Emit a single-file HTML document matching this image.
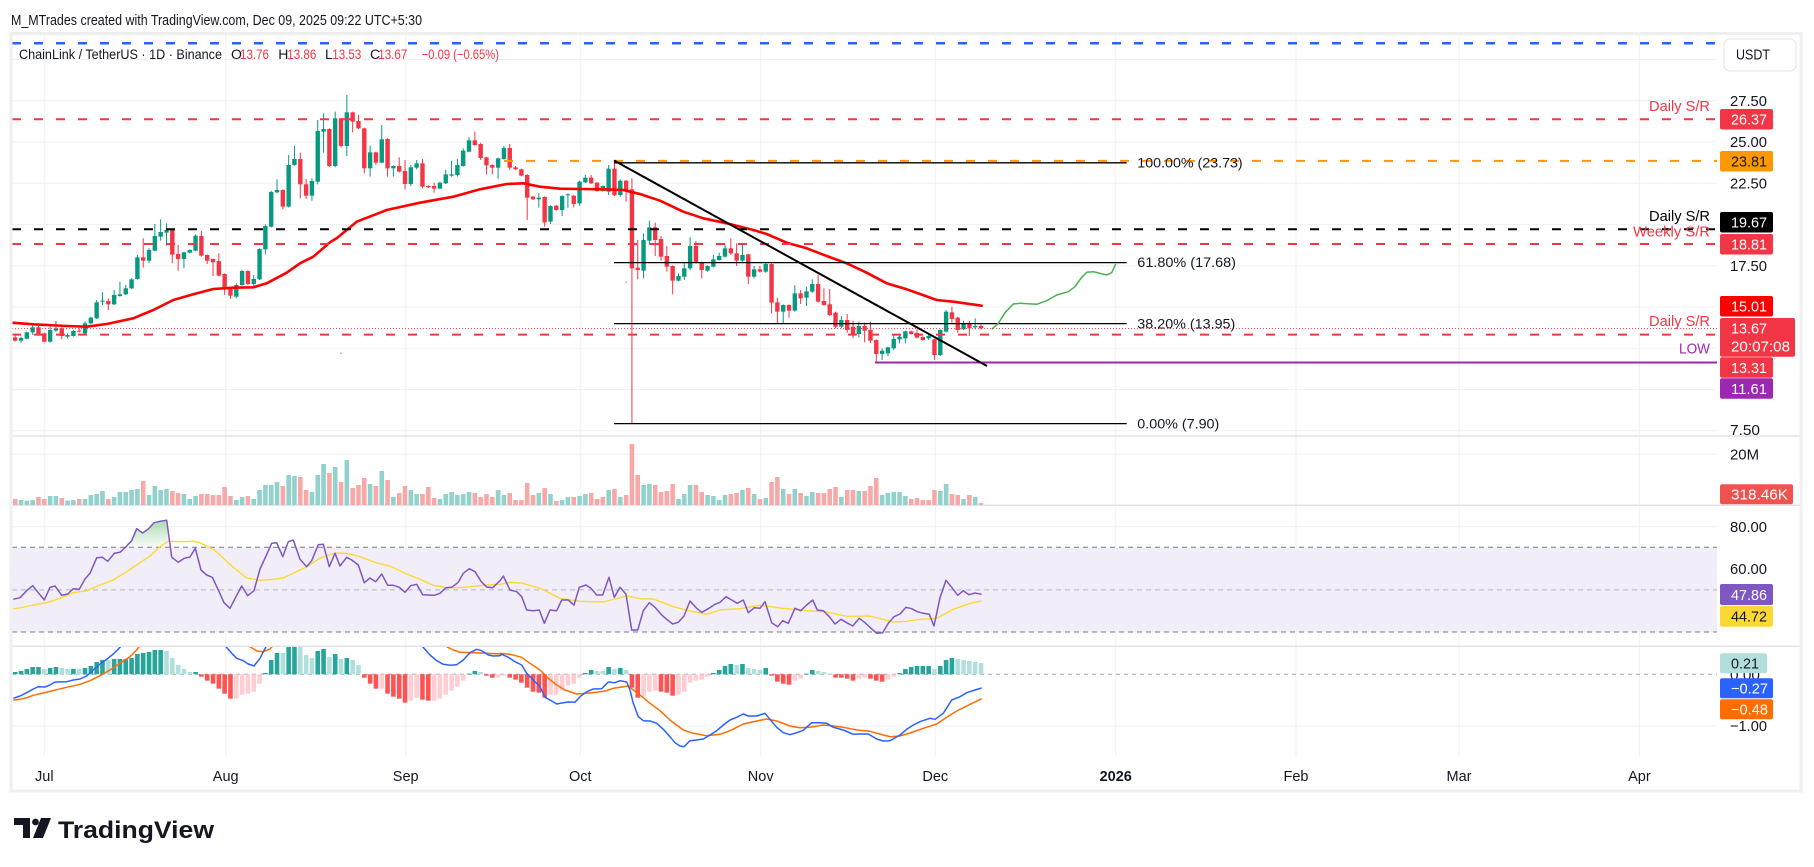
<!DOCTYPE html>
<html><head><meta charset="utf-8">
<style>
html,body{margin:0;padding:0;background:#fff;}
svg{display:block;}
text{font-family:"Liberation Sans",sans-serif;}
</style></head><body>
<svg id="c" width="1814" height="867" viewBox="0 0 1814 867" xmlns="http://www.w3.org/2000/svg">
<defs>
 <clipPath id="cpMain"><rect x="12" y="35" width="1705" height="401"/></clipPath>
 <clipPath id="cpRsi"><rect x="12" y="506" width="1705" height="140"/></clipPath>
 <clipPath id="cpMacd"><rect x="12" y="647" width="1705" height="109"/></clipPath>
 <linearGradient id="obg" x1="0" y1="0" x2="0" y2="1">
  <stop offset="0" stop-color="#4caf50" stop-opacity="0.45"/>
  <stop offset="1" stop-color="#4caf50" stop-opacity="0.03"/>
 </linearGradient>
</defs>
<rect width="1814" height="867" fill="#fff"/>
<!-- RSI band -->
<rect x="12" y="547.3" width="1705" height="84.7" fill="#f2eef9"/>
<!-- grid -->
<g stroke="#eff1f4" stroke-width="1">
 <line x1="12" x2="1717" y1="59.5" y2="59.5"/>
 <line x1="12" x2="1717" y1="100.7" y2="100.7"/>
 <line x1="12" x2="1717" y1="142" y2="142"/>
 <line x1="12" x2="1717" y1="183.2" y2="183.2"/>
 <line x1="12" x2="1717" y1="224.5" y2="224.5"/>
 <line x1="12" x2="1717" y1="265.7" y2="265.7"/>
 <line x1="12" x2="1717" y1="307" y2="307"/>
 <line x1="12" x2="1717" y1="348.2" y2="348.2"/>
 <line x1="12" x2="1717" y1="389.5" y2="389.5"/>
 <line x1="12" x2="1717" y1="430.7" y2="430.7"/>
 <line x1="12" x2="1717" y1="454.3" y2="454.3"/>
 <line x1="12" x2="1717" y1="526.7" y2="526.7"/>
 <line x1="12" x2="1717" y1="568.8" y2="568.8"/>
 <line x1="12" x2="1717" y1="610.9" y2="610.9"/>
 <line x1="12" x2="1717" y1="726" y2="726"/>
 <line x1="44.3" x2="44.3" y1="35" y2="756"/>
 <line x1="225.7" x2="225.7" y1="35" y2="756"/>
 <line x1="405.7" x2="405.7" y1="35" y2="756"/>
 <line x1="580.3" x2="580.3" y1="35" y2="756"/>
 <line x1="760.7" x2="760.7" y1="35" y2="756"/>
 <line x1="935.3" x2="935.3" y1="35" y2="756"/>
 <line x1="1115.7" x2="1115.7" y1="35" y2="756"/>
 <line x1="1296" x2="1296" y1="35" y2="756"/>
 <line x1="1459" x2="1459" y1="35" y2="756"/>
 <line x1="1639.4" x2="1639.4" y1="35" y2="756"/>
</g>
<!-- pane separators -->
<g stroke="#e0e3eb" stroke-width="1.5">
 <line x1="12" x2="1801" y1="436" y2="436"/>
 <line x1="12" x2="1801" y1="505.3" y2="505.3"/>
 <line x1="12" x2="1801" y1="646.3" y2="646.3"/>
</g>
<!-- RSI levels -->
<line x1="12" x2="1717" y1="547.3" y2="547.3" stroke="#787b86" stroke-width="1" stroke-dasharray="5 4"/>
<line x1="12" x2="1717" y1="589.9" y2="589.9" stroke="#b2b5be" stroke-width="1" stroke-dasharray="5 4"/>
<line x1="12" x2="1717" y1="632" y2="632" stroke="#787b86" stroke-width="1" stroke-dasharray="5 4"/>
<!-- MACD zero -->
<line x1="12" x2="1717" y1="674.3" y2="674.3" stroke="#a3a6af" stroke-width="1" stroke-dasharray="4 4"/>

<g id="vol"></g>
<g clip-path="url(#cpRsi)"><g id="rsi"></g></g>
<g clip-path="url(#cpMacd)"><g id="macd"></g></g>
<g clip-path="url(#cpMain)"><g id="candles"></g><g id="ind"></g></g>

<!-- drawings -->
<g id="draw">
 <line x1="12" x2="1717" y1="43.3" y2="43.3" stroke="#2962ff" stroke-width="2.5" stroke-dasharray="9 13"/>
 <line x1="12" x2="1717" y1="119.3" y2="119.3" stroke="#f23645" stroke-width="2" stroke-dasharray="9 13"/>
 <line x1="504" x2="1717" y1="160.9" y2="160.9" stroke="#ff9800" stroke-width="2" stroke-dasharray="9 13"/>
 <line x1="12" x2="1717" y1="229.2" y2="229.2" stroke="#000" stroke-width="2" stroke-dasharray="9 13"/>
 <line x1="12" x2="1717" y1="244" y2="244" stroke="#f23645" stroke-width="2" stroke-dasharray="9 13"/>
 <line x1="12" x2="1717" y1="334.6" y2="334.6" stroke="#f23645" stroke-width="2" stroke-dasharray="9 13"/>
 <line x1="12" x2="1717" y1="328.6" y2="328.6" stroke="#f23645" stroke-width="1" stroke-dasharray="1 2"/>
 <line x1="875" x2="1717" y1="362.5" y2="362.5" stroke="#9c27b0" stroke-width="2"/>
 <g stroke="#000" stroke-width="1.3">
  <line x1="614" x2="1126.7" y1="162.8" y2="162.8"/>
  <line x1="614" x2="1126.7" y1="262.6" y2="262.6"/>
  <line x1="614" x2="1126.7" y1="323.6" y2="323.6"/>
  <line x1="614" x2="1126.7" y1="423.6" y2="423.6"/>
 </g>
 <line x1="614" y1="160.5" x2="987" y2="366" stroke="#000" stroke-width="2"/>
</g>
<g id="proj"></g>

<!-- fib labels -->
<g font-size="14" fill="#131722">
 <text x="1137.3" y="167.7" textLength="105.4" lengthAdjust="spacingAndGlyphs">100.00% (23.73)</text>
 <text x="1137.3" y="267.2" textLength="98.7" lengthAdjust="spacingAndGlyphs">61.80% (17.68)</text>
 <text x="1137.3" y="328.4" textLength="98" lengthAdjust="spacingAndGlyphs">38.20% (13.95)</text>
 <text x="1137.3" y="428.4" textLength="82" lengthAdjust="spacingAndGlyphs">0.00% (7.90)</text>
</g>
<!-- on-chart labels -->
<g font-size="15" text-anchor="end">
 <text x="1710" y="111" fill="#f23645" textLength="61" lengthAdjust="spacingAndGlyphs">Daily S/R</text>
 <text x="1710" y="221" fill="#000" textLength="61" lengthAdjust="spacingAndGlyphs">Daily S/R</text>
 <text x="1710" y="236.5" fill="#f23645" textLength="77" lengthAdjust="spacingAndGlyphs">Weekly S/R</text>
 <text x="1710" y="326" fill="#f23645" textLength="61" lengthAdjust="spacingAndGlyphs">Daily S/R</text>
 <text x="1710" y="353.5" fill="#9c27b0" textLength="31" lengthAdjust="spacingAndGlyphs">LOW</text>
</g>

<!-- title + legend -->
<text x="11" y="25" font-size="15" fill="#131722" textLength="411" lengthAdjust="spacingAndGlyphs">M_MTrades created with TradingView.com, Dec 09, 2025 09:22 UTC+5:30</text>
<g font-size="14" fill="#131722">
 <text x="19" y="59" textLength="203" lengthAdjust="spacingAndGlyphs">ChainLink / TetherUS · 1D · Binance</text>
 <text x="231" y="59">O</text><text x="240" y="59" fill="#f23645" textLength="29" lengthAdjust="spacingAndGlyphs">13.76</text>
 <text x="278.3" y="59">H</text><text x="287.3" y="59" fill="#f23645" textLength="29" lengthAdjust="spacingAndGlyphs">13.86</text>
 <text x="325" y="59">L</text><text x="332.3" y="59" fill="#f23645" textLength="29" lengthAdjust="spacingAndGlyphs">13.53</text>
 <text x="370" y="59">C</text><text x="378.3" y="59" fill="#f23645" textLength="29" lengthAdjust="spacingAndGlyphs">13.67</text>
 <text x="421.7" y="59" fill="#f23645" textLength="77.3" lengthAdjust="spacingAndGlyphs">−0.09 (−0.65%)</text>
</g>

<!-- price scale -->
<rect x="1724" y="39" width="72" height="32" rx="6" fill="#fff" stroke="#e0e3eb" stroke-width="1"/>
<text x="1753" y="59.5" font-size="15" fill="#131722" text-anchor="middle" textLength="34" lengthAdjust="spacingAndGlyphs">USDT</text>
<g font-size="15" fill="#131722">
 <text x="1730" y="106" textLength="37" lengthAdjust="spacingAndGlyphs">27.50</text>
 <text x="1730" y="147" textLength="37" lengthAdjust="spacingAndGlyphs">25.00</text>
 <text x="1730" y="188.5" textLength="37" lengthAdjust="spacingAndGlyphs">22.50</text>
 <text x="1730" y="271" textLength="37" lengthAdjust="spacingAndGlyphs">17.50</text>
 <text x="1730" y="435" textLength="30" lengthAdjust="spacingAndGlyphs">7.50</text>
 <text x="1730" y="459.5" textLength="29" lengthAdjust="spacingAndGlyphs">20M</text>
 <text x="1730" y="532" textLength="37" lengthAdjust="spacingAndGlyphs">80.00</text>
 <text x="1730" y="574" textLength="37" lengthAdjust="spacingAndGlyphs">60.00</text>
 <text x="1730" y="680" textLength="30" lengthAdjust="spacingAndGlyphs">0.00</text>
 <text x="1730" y="731" textLength="37" lengthAdjust="spacingAndGlyphs">−1.00</text>
</g>
<g font-size="15">
 <rect x="1720" y="109" width="53" height="20.5" rx="2" fill="#f23645"/>
 <text x="1731" y="124.5" fill="#fff" textLength="36" lengthAdjust="spacingAndGlyphs">26.37</text>
 <rect x="1720" y="151" width="53" height="20.5" rx="2" fill="#ff9800"/>
 <text x="1731" y="166.5" fill="#131722" textLength="36" lengthAdjust="spacingAndGlyphs">23.81</text>
 <rect x="1720" y="212" width="53" height="20.5" rx="2" fill="#000"/>
 <text x="1731" y="227.5" fill="#fff" textLength="36" lengthAdjust="spacingAndGlyphs">19.67</text>
 <rect x="1720" y="234" width="53" height="20.5" rx="2" fill="#f23645"/>
 <text x="1731" y="249.5" fill="#fff" textLength="36" lengthAdjust="spacingAndGlyphs">18.81</text>
 <rect x="1720" y="296" width="53" height="20.5" rx="2" fill="#ff0000"/>
 <text x="1731" y="311.5" fill="#fff" textLength="36" lengthAdjust="spacingAndGlyphs">15.01</text>
 <rect x="1720" y="318" width="75" height="38.7" rx="2" fill="#f23645"/>
 <text x="1731" y="333.5" fill="#fff" textLength="36" lengthAdjust="spacingAndGlyphs">13.67</text>
 <text x="1731" y="351.3" fill="#fff" textLength="59" lengthAdjust="spacingAndGlyphs">20:07:08</text>
 <rect x="1720" y="357.3" width="53" height="20.5" rx="2" fill="#f23645"/>
 <text x="1731" y="372.8" fill="#fff" textLength="36" lengthAdjust="spacingAndGlyphs">13.31</text>
 <rect x="1720" y="378.3" width="53" height="20.5" rx="2" fill="#9c27b0"/>
 <text x="1731" y="393.8" fill="#fff" textLength="36" lengthAdjust="spacingAndGlyphs">11.61</text>
 <rect x="1720" y="484.3" width="73" height="20" rx="2" fill="#ef5350"/>
 <text x="1731" y="499.5" fill="#fff" textLength="57" lengthAdjust="spacingAndGlyphs">318.46K</text>
 <rect x="1720" y="584" width="53" height="21" rx="2" fill="#7e57c2"/>
 <text x="1731" y="599.8" fill="#fff" textLength="36" lengthAdjust="spacingAndGlyphs">47.86</text>
 <rect x="1720" y="606" width="53" height="20.7" rx="2" fill="#fdd835"/>
 <text x="1731" y="621.6" fill="#131722" textLength="36" lengthAdjust="spacingAndGlyphs">44.72</text>
 <rect x="1720" y="653.3" width="47" height="20" rx="2" fill="#b2dfdb"/>
 <text x="1731" y="668.5" fill="#131722" textLength="28" lengthAdjust="spacingAndGlyphs">0.21</text>
 <rect x="1720" y="678.3" width="53" height="20" rx="2" fill="#2962ff"/>
 <text x="1731" y="693.5" fill="#fff" textLength="37" lengthAdjust="spacingAndGlyphs">−0.27</text>
 <rect x="1720" y="699.3" width="53" height="20" rx="2" fill="#ff6d00"/>
 <text x="1731" y="714.5" fill="#fff" textLength="37" lengthAdjust="spacingAndGlyphs">−0.48</text>
</g>

<!-- time axis -->
<g font-size="14.5" fill="#131722" text-anchor="middle">
 <text x="44.3" y="781">Jul</text>
 <text x="225.7" y="781">Aug</text>
 <text x="405.7" y="781">Sep</text>
 <text x="580.3" y="781">Oct</text>
 <text x="760.7" y="781">Nov</text>
 <text x="935.3" y="781">Dec</text>
 <text x="1115.7" y="781" font-weight="bold">2026</text>
 <text x="1296" y="781">Feb</text>
 <text x="1459" y="781">Mar</text>
 <text x="1639.4" y="781">Apr</text>
</g>

<!-- frame -->
<rect x="11" y="33.5" width="1790" height="757.5" fill="none" stroke="#eeeff1" stroke-width="3"/>

<!-- logo -->
<g fill="#131722">
 <path d="M14 818 H30 V838 H23 V825 H14 Z"/>
 <circle cx="35.5" cy="822" r="3.4"/>
 <path d="M41 818 H51 L43 838 H33 Z"/>
 <text x="58" y="838" font-size="24" font-weight="bold" textLength="156" lengthAdjust="spacingAndGlyphs">TradingView</text>
</g>
</svg>
<script>
(function(){
var NS='http://www.w3.org/2000/svg';
function $(id){return document.getElementById(id);}
function el(p,t,a){var e=document.createElementNS(NS,t);for(var k in a)e.setAttribute(k,a[k]);p.appendChild(e);return e;}
function X(i){return 44.3+5.818*i;}
var G='#089981',R='#f23645';
var groups=[
[80,-5,"r772,782,765,785 g774,782,770,788 g757,776,755,778 g742,757,732,765 r742,765,738,767 r760,785,758,787 g750,785,735,788 g745,752,723,755 r745,768,742,778 g765,770,760,775 g753,768,750,770 r752,755,745,757 g730,760,725,765 g713,730,710,733 g667,715,660,717 g662,665,637,675 r663,673,655,690 g645,673,630,675 g643,648,605,650 g625,643,615,645 g598,625,595,627 g532,597,525,599 r532,542,475,563 g510,542,505,550 g468,512,432,514 g456,470,418,482 g450,458,430,497 r450,524,448,550 r522,537,495,572 g517,537,515,565 g510,518,508,520 g467,512,463,514 r468,527,453,530 r525,542,523,552 r537,547,535,588 r543,587,520,589 r582,628,580,645 r622,647,620,657 g615,650,610,655 g573,615,570,617 r573,612,571,615 g597,612,585,625 g507,598,505,600 g438,508,433,523 g336,440,332,442 g330,337,298,340 r330,380,328,388 g255,380,225,382 g237,255,198,257 r237,313,218,355 r313,347,297,357 g303,347,295,362 g153,305,120,313 g147,155,100,218"],
[80,49,"r147,258,145,262 g115,258,95,262 r115,198,113,203 g97,198,45,228 r97,125,95,157 r123,145,105,147 r145,265,143,280 g217,265,197,290 r217,248,215,255 g178,248,135,250 r177,265,175,290 g258,265,256,290 r258,275,232,277 r273,312,240,328 g262,312,255,318 g250,263,240,268 r250,320,237,325 r318,322,316,324 r318,326,308,338 g308,326,305,328 g283,310,270,312 g283,287,242,290 g255,285,237,290 g212,258,205,260 g181,215,172,217 r181,195,155,197 r192,234,188,240 r232,256,230,283 r255,263,253,283 g235,263,233,296 g204,237,198,239 r204,263,192,270 r262,268,258,270 r268,287,266,289 r285,353,282,420 r350,358,348,360 g353,358,340,383 r351,427,349,440 g378,425,376,432 r377,390,375,392 g348,390,346,408 g343,346,340,383 r347,372,345,382 g305,370,302,377 g293,307,285,309 r293,310,285,312 r308,333,306,335 g318,333,316,335 g266,335,255,345 r266,346,242,348"],
[130,99,"g152,195,148,200 r152,180,150,215 r178,415,145,880 r413,420,330,448 g330,422,310,445 g292,332,272,345 r292,330,278,378 r327,380,318,392 r378,410,348,425 r408,452,406,493 g438,452,430,454 g415,440,398,450 g348,415,322,420 r348,398,333,400 r397,420,395,445 g408,422,406,425 g388,410,375,412 g378,390,368,392 g355,380,342,383 r355,370,325,375 r370,392,340,408 g375,392,342,395 r373,440,371,462 g418,440,408,445 r418,425,408,428 g402,425,398,428 r402,518,400,550 r517,545,503,580 g525,545,523,580 r525,542,523,563 g490,542,466,545 r490,505,480,522 g484,503,470,528 g462,485,448,488 r462,515,435,518 r513,525,475,527 r523,555,477,558 r548,590,545,595 g570,590,558,595 r570,600,552,608 r590,612,572,625 g588,612,575,622 r588,602,578,637 r600,632,575,640 r630,672,628,695 g662,672,655,690 g652,670,650,678 g627,655,615,660 g620,628,612,640 g604,625,602,640 r604,612,602,614 r609,623,598,625 r621,630,619,632 g618,625,615,630 r628,675,626,690 g600,675,598,678 g545,605,540,607 r547,567,530,578 r563,600,560,608 g580,598,572,600 r580,595,572,618 g588,592,565,598 r588,595,583,598"]
];
var cg=$('candles');
groups.forEach(function(gr){
 var yo=gr[0],st=gr[1];
 gr[2].trim().split(/\s+/).forEach(function(tok,k){
  var i=st+k,col=tok[0]==='g'?G:R;
  var v=tok.slice(1).split(',').map(function(n){return yo+Number(n)/3;});
  var x=X(i);
  el(cg,'line',{x1:x,x2:x,y1:v[2],y2:v[3],stroke:col,'stroke-width':1});
  el(cg,'rect',{x:x-2.2,y:v[0],width:4.4,height:Math.max(1,v[1]-v[0]),fill:col});
 });
});
el(cg,'rect',{x:340,y:352.5,width:2,height:1.5,fill:'#f7a9a7'});
el(cg,'rect',{x:625,y:281.5,width:2,height:1.5,fill:'#f7a9a7'});

// volume
var vg=$('vol');
[[-5,"r387 g390 g392 g390 r381 r387 g378 g378 r384 g392 g390 r387 g387 g375 g372 g363 r387 g381 g366 g366 g360 g357 r333 g375 g348 g360 g357 r363 r369 g372 g387 g378 r372 r372 r375 r375 r351 r378 g390 g381 r378 g387 g360 g345 g345 g336 r348 g315 g318 r321 r360 g366 g315 g282 r309 g291 r336 g270 r354 r345 r324 g342 r348 g303 r330 g381 r369 r348 g360 g372 r372 r351 r384 g387 g372 g366 g375 g372 g366 r369 r381 r372 r381 g360"],
 [79,"g375 r369 r390 r390 r339 r375 g369 r354 g372 r393 g390 g381 r381 g378 g372 r369 r387 r381 g360 r357 g381 r375 r222 r315 g345 g342 r345 r366 r363 r342 g387 g372 g345 r345 r366 g375 g378 g390 g375 r372 r369 g360 r354 g372 r387 g384 r336 r321 g357 r372 g357 r369 g378 g366 r369 r369 r357 r351 g381 r360 r360 g363 r363 r348 r324 g375 g369 g366 g366 g378 r387 r384 r390 r390 r360 g363 g342 r372 r375 g387 r375 g381 r399"]
].forEach(function(gr){
 gr[1].trim().split(/\s+/).forEach(function(tok,k){
  var i=gr[0]+k,top=370+Number(tok.slice(1))/3;
  el(vg,'rect',{x:X(i)-2.3,y:top,width:4.6,height:505-top,fill:tok[0]==='g'?'#92d2cc':'#f7a9a7'});
 });
});

// MACD histogram
var mg=$('macd'),Z=674.3;
[[-5,"d96 d93 d87 d81 d81 l87 d84 d81 l84 l87 d87 l87 d84 d78 d66 d60 l60 d57 d57 d57 d54 d42 d39 d36 d30 d30 l33 l54 l75 l87 l96 d96 d110 d122 d131 d146 d161 d176 l176 l164 l161 l155 l131 d99 d60 d39 l39 d18 d18 l18 l45 l54 d33 d27 l51 d42 l57 d54 l60 l75 d113 d131 d146 l146 d161 d170 d176 d188 l182 l173 d179 d182 l182 l176 l164 l152 l140 l122 d101 d93 l96 d107 d113 l113"],
 [79,"l107 d113 d119 d128 d143 d155 d158 d173 l164 l164 l152 l137 l131 l113 d99 d90 l93 l93 d81 l87 d84 l90 d143 d173 l170 l155 l152 d155 d158 d167 l164 l155 l128 l122 l119 l110 d99 d90 d78 d72 l75 d72 l84 l87 l90 d84 d107 d125 d131 d134 l122 l116 d101 d90 l93 l96 l101 d113 d113 d116 d122 l116 l113 d116 d122 d125 l119 l110 d99 d87 d81 d78 d78 d78 l87 d78 d60 d54 l57 l60 l63 l66 l69"]
].forEach(function(gr){
 gr[1].trim().split(/\s+/).forEach(function(tok,k){
  var i=gr[0]+k,y=640+Number(tok.slice(1))/3,pos=y<Z,d=tok[0]==='d';
  var col=pos?(d?'#26a69a':'#b2dfdb'):(d?'#ff5252':'#ffcdd2');
  el(mg,'rect',{x:X(i)-2.3,y:Math.min(y,Z),width:4.6,height:Math.max(0.8,Math.abs(y-Z)),fill:col});
 });
});

function cv(list,xo,yo){return list.map(function(p){return [xo+p[0]/3,yo+p[1]/3];});}
function pl(par,pts,attrs){attrs.points=pts.map(function(p){return p[0].toFixed(1)+','+p[1].toFixed(1);}).join(' ');attrs.fill='none';attrs['stroke-linejoin']='round';return el(par,'polyline',attrs);}

// MACD lines
var b1=cv([[40,175],[60,168],[80,158],[100,147],[115,140],[135,141],[150,135],[165,126],[200,125],[220,120],[240,117],[260,108],[280,90],[300,72],[320,58],[340,42],[360,22],[370,10]],0,640);
var b2=cv([[670,10],[678,20],[695,40],[710,55],[730,62],[745,72],[762,78],[780,55],[797,22],[803,10]],0,640);
var b3=cv([[1262,10],[1268,20],[1290,45],[1310,62],[1330,73],[1350,76],[1370,74],[1390,60],[1410,38],[1430,28],[1445,32],[1465,45],[1480,48],[1500,47]],0,640).concat(cv([[35,43],[55,52],[75,65],[95,75],[110,100],[130,120],[150,140],[165,172],[185,183],[200,192],[215,189],[235,186],[255,187],[270,170],[290,155],[310,147],[335,146],[355,126],[375,128],[390,122],[410,126],[420,150],[430,190],[445,230],[460,242],[480,243],[500,250],[520,268],[540,290],[555,308],[570,318],[582,320],[600,302],[620,300],[640,297],[660,285],[680,272],[700,255],[720,240],[740,232],[760,222],[775,228],[800,228],[825,220],[840,238],[860,262],[880,278],[900,284],[920,278],[940,271],[965,248],[990,248],[1010,250],[1030,262],[1060,270],[1090,283],[1110,282],[1135,282],[1160,297],[1180,303],[1200,302],[1230,285],[1250,268],[1270,255],[1290,245],[1320,235],[1335,238],[1360,220],[1385,180],[1410,170],[1430,158],[1455,150],[1475,144]],490,640));
var o1=cv([[40,181],[60,178],[80,173],[100,166],[130,159],[170,149],[200,142],[240,133],[270,122],[300,107],[330,90],[360,70],[390,50],[410,30],[425,10]],0,640);
var o2=cv([[745,10],[750,20],[770,33],[790,35],[810,27],[825,10]],0,640);
var o3=cv([[1335,10],[1340,20],[1360,30],[1380,37],[1420,38],[1460,40],[1500,42]],0,640).concat(cv([[30,40],[60,43],[95,52],[120,70],[150,90],[175,115],[200,135],[225,150],[260,162],[290,160],[320,157],[345,153],[370,145],[400,140],[415,138],[440,158],[460,173],[480,190],[510,212],[540,240],[580,270],[610,280],[650,287],[690,283],[720,272],[760,252],[800,243],[830,237],[860,243],[900,258],[930,263],[960,262],[1000,255],[1030,258],[1060,262],[1100,270],[1140,274],[1180,285],[1200,290],[1230,288],[1260,279],[1300,265],[1340,252],[1370,232],[1400,213],[1440,193],[1475,176]],490,640));
[o1,o2,o3].forEach(function(p){pl(mg,p,{stroke:'#ff6d00','stroke-width':1.5});});
[b1,b2,b3].forEach(function(p){pl(mg,p,{stroke:'#2962ff','stroke-width':1.5});});

// RSI
var rg=$('rsi');
var rsiA=[[40,688],[60,683],[80,662],[98,647],[115,668],[133,690],[150,652],[165,648],[185,676],[203,672],[220,656],[238,658],[255,627],[270,610],[290,563],[307,562],[323,574],[343,550],[360,547],[378,530],[395,512],[410,476],[428,489],[445,477],[462,458],[480,454],[500,451],[515,562],[535,577],[553,565],[570,561],[586,535],[603,600],[620,615],[637,622],[655,660],[672,698],[690,715],[708,680],[725,648],[743,677],[762,662],[780,597],[797,560],[815,520],[830,518],[848,560],[865,515],[880,510],[900,568],[920,590],[935,572],[955,524],[970,523],[988,590],[1005,550],[1020,588],[1040,562],[1055,570],[1075,585],[1093,638],[1110,624],[1127,635],[1145,612],[1163,646],[1180,646],[1198,652],[1215,667],[1232,647],[1250,643],[1268,674],[1285,675],[1303,676],[1320,670],[1338,653],[1355,652],[1375,637],[1390,610],[1408,596],[1425,605],[1443,634],[1460,651],[1478,653],[1500,632]];
var rsiB=[[70,618],[90,660],[110,665],[125,680],[140,720],[160,722],[178,720],[193,760],[210,720],[230,722],[245,690],[265,690],[282,705],[298,652],[318,645],[333,655],[350,675],[368,675],[387,622],[403,682],[420,652],[438,673],[455,780],[473,780],[490,722],[508,698],[525,712],[545,735],[560,748],[578,762],[595,757],[612,738],[630,693],[650,715],[665,727],[685,716],[705,703],[720,697],[738,680],[755,690],[772,700],[790,690],[805,728],[823,713],[840,715],[855,695],[875,758],[893,770],[908,752],[925,760],[945,715],[962,722],[980,705],[998,690],[1012,720],[1030,722],[1048,740],[1065,762],[1083,748],[1100,758],[1118,768],[1138,745],[1155,758],[1173,775],[1190,790],[1208,788],[1225,760],[1242,740],[1260,732],[1278,712],[1295,716],[1312,725],[1330,730],[1348,733],[1362,768],[1380,683],[1398,631],[1415,652],[1433,676],[1450,662],[1467,674],[1485,669],[1505,673]];
var yA=[[40,716],[60,714],[100,705],[140,698],[180,685],[220,668],[260,662],[300,645],[340,630],[380,605],[420,578],[450,558],[480,530],[505,514],[540,515],[580,514],[600,518],[640,538],[660,555],[700,592],[740,624],[780,631],[820,628],[850,624],[880,610],[920,590],[960,565],[1005,549],[1040,550],[1080,560],[1130,579],[1170,588],[1215,610],[1260,628],[1300,646],[1340,653],[1380,653],[1420,649],[1460,645],[1500,643]];
var yB=[[90,637],[125,639],[180,655],[240,685],[300,694],[370,696],[440,678],[480,686],[520,687],[580,710],[640,725],[680,733],[720,720],[780,716],[840,706],[900,714],[980,722],[1040,726],[1100,739],[1170,738],[1240,756],[1280,754],[1320,748],[1370,745],[1420,718],[1470,700],[1505,693]];
var fill=cv([[372,532],[378,530],[395,512],[410,476],[428,489],[445,477],[462,458],[480,454],[500,451],[505,532]],0,370);
el(rg,'polygon',{points:fill.map(function(p){return p[0].toFixed(1)+','+p[1].toFixed(1);}).join(' '),fill:'url(#obg)'});
pl(rg,cv(yA,0,370).concat(cv(yB,480,370)),{stroke:'#fdd835','stroke-width':1.4});
pl(rg,cv(rsiA,0,370).concat(cv(rsiB,480,370)),{stroke:'#7e57c2','stroke-width':1.5});

// EMA
var ig=$('ind');
var ema=cv([[40,728],[100,733],[200,738],[260,740],[320,732],[400,715],[460,690],[520,660],[580,643],[640,627],[700,623],[760,622],[800,610],[860,578],[900,550],[940,530],[990,487]],0,80)
 .concat(cv([[50,475],[110,425],[200,390],[300,368],[400,350],[480,328],[560,312],[610,310],[660,320],[720,326],[780,327],[850,328],[910,330],[950,340]],320,80))
 .concat(cv([[60,192],[120,212],[190,245],[250,265],[320,280],[400,300],[440,312],[500,338],[560,355],[620,378],[680,400],[740,428],[800,460],[860,478],[900,492],[950,510],[1000,515],[1085,527]],620,130));
ema[0][0]=12;
pl(ig,ema,{stroke:'#ff0000','stroke-width':2.6,'stroke-linecap':'round'});

// projection
pl($('proj'),cv([[95,568],[115,550],[135,518],[160,492],[180,490],[230,493],[260,482],[290,465],[325,455],[345,440],[365,412],[380,397],[400,395],[440,405],[455,398],[467,372]],960,140),{stroke:'#4caf50','stroke-width':1.5});
})();
</script>
</body></html>
